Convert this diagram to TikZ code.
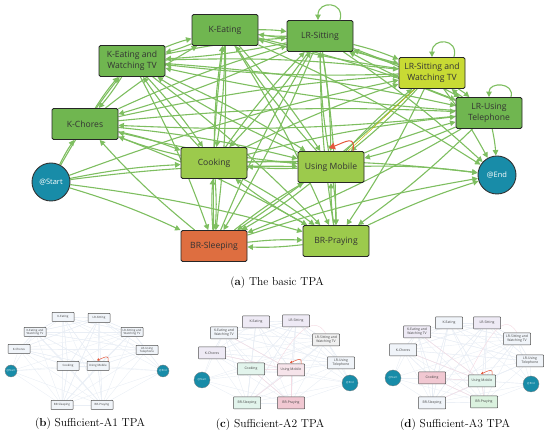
\documentclass[tikz,border=0pt]{standalone}
\usepackage{fontspec}
\newfontfamily\tpafont{Open Sans}
\usetikzlibrary{arrows.meta,backgrounds}

\definecolor{actgreen}{RGB}{112,182,80}
\definecolor{actlime}{RGB}{156,202,76}
\definecolor{actyellow}{RGB}{200,218,52}
\definecolor{actorange}{RGB}{222,110,64}
\definecolor{tpateal}{RGB}{24,140,168}
\definecolor{flowgreen}{RGB}{126,190,96}
\definecolor{loopred}{RGB}{228,88,60}
\definecolor{faintblue}{RGB}{233,238,245}
\definecolor{faintpink}{RGB}{245,220,228}
\definecolor{minibase}{RGB}{240,244,249}
\definecolor{minilav}{RGB}{238,234,245}
\definecolor{minimint}{RGB}{226,244,236}
\definecolor{minipink}{RGB}{246,228,234}
\definecolor{minirose}{RGB}{241,200,210}
\definecolor{minigreen}{RGB}{218,241,222}

% directed transitions between the states
\newcommand{\tpaedges}{ke/ket, ket/ke, ke/ls, ls/ke, ke/ck, ck/ke, ke/um, um/ke,
	ke/bp, ke/lst, lst/ke, ke/lt, kc/ke, ke/bs, bs/ke,
	ket/kc, kc/ket, ket/ck, ck/ket, ket/ls, ls/ket, ket/lst, lst/ket,
	ket/um, um/ket, ket/bs, ket/bp, ket/lt, lt/ket,
	kc/ck, ck/kc, kc/ls, ls/kc, kc/um, um/kc, kc/lst, kc/lt, lt/kc, kc/bp, bs/kc,
	ck/bs, bs/ck, ck/um, um/ck, ck/ls, ls/ck, ck/lst, ck/lt, ck/bp, bp/ck,
	ls/lst, lst/ls, ls/lt, lt/ls, ls/um, um/ls, ls/bp, bp/ls, ls/bs, bs/ls,
	lst/lt, lt/lst, lst/um, um/lst, lst/bp, lst/bs,
	lt/um, um/lt, lt/bp, lt/bs, um/bp, bp/um, um/bs, bs/um, bs/bp, bp/bs,
	st/ket, st/kc, st/ck, st/bs, st/um, st/bp, st/lst,
	ls/en, lst/en, lt/en, um/en, bp/en, ck/en, ke/en, bs/en}

\tikzset{
	act/.style={shape=rectangle,rounded corners=1.5pt,draw=black!85,line width=0.9pt,
		minimum width=66pt,minimum height=31pt,inner sep=1pt,align=center,
		font=\tpafont\fontsize{8.6}{10.5}\selectfont,text=black!80},
	term/.style={shape=circle,draw=black!80,line width=0.9pt,fill=tpateal,
		minimum size=38pt,inner sep=0pt,font=\tpafont\fontsize{7.5}{9}\selectfont,text=white},
	flow/.style={draw=flowgreen,line width=1.1pt,-{Triangle[length=5.5pt,width=5.5pt]},bend left=4},
	selfloop/.style={draw=flowgreen,line width=1.1pt,-{Triangle[length=5.5pt,width=5.5pt]}},
	redloop/.style={draw=loopred,line width=1pt,-{Triangle[length=6pt,width=7pt]}},
	mini/.style={shape=rectangle,rounded corners=0.6pt,draw=black!70,line width=0.5pt,
		minimum width=27pt,minimum height=12pt,inner sep=0.5pt,align=center,
		font=\tpafont\fontsize{3.4}{4}\selectfont,text=black!75},
	miniterm/.style={shape=circle,draw=black!50,line width=0.3pt,fill=tpateal,
		minimum size=16pt,inner sep=0pt,font=\tpafont\fontsize{2.8}{3}\selectfont,text=white!85!tpateal},
	faint/.style={draw=faintblue,line width=0.4pt},
	faintred/.style={draw=faintpink,line width=0.45pt},
	minired/.style={draw=loopred,line width=0.5pt,-{Triangle[length=2.2pt,width=2.6pt]}},
	caption/.style={font=\fontsize{11.5}{13}\selectfont}
}

\begin{document}
\begin{tikzpicture}[x=1pt,y=1pt]
	\useasboundingbox (0,0) rectangle (550,-435);

	% (a) the basic TPA
	\node[act,fill=actgreen] (ke) at (225,-30) {K-Eating};
	\node[act,fill=actgreen] (ket) at (132,-61) {K-Eating and\\Watching TV};
	\node[act,fill=actgreen] (kc) at (85,-124) {K-Chores};
	\node[act,fill=actlime] (ck) at (214,-163) {Cooking};
	\node[act,fill=actorange] (bs) at (214,-246) {BR-Sleeping};
	\node[act,fill=actgreen] (ls) at (320,-36) {LR-Sitting};
	\node[act,fill=actyellow] (lst) at (432,-73) {LR-Sitting and\\Watching TV};
	\node[act,fill=actgreen] (lt) at (489,-113) {LR-Using\\Telephone};
	\node[act,fill=actlime] (um) at (331,-167) {Using Mobile};
	\node[act,fill=actlime] (bp) at (336,-241) {BR-Praying};
	\node[term] (st) at (51,-182) {@Start};
	\node[term] (en) at (497,-175) {@End};

	\begin{pgfonlayer}{background}
		\path
		\foreach \startNode/\endNode in \tpaedges
		{
			(\startNode) edge[flow] (\endNode)
		};
		\draw[draw=olive!55!yellow,line width=0.5pt] (lst) -- (um);
	\end{pgfonlayer}
	\draw[selfloop] ([xshift=20pt]ls.north) to[out=75,in=90,looseness=2.3] ([xshift=-2pt]ls.north);
	\draw[selfloop] ([xshift=22pt]lst.north) to[out=75,in=90,looseness=2.3] (lst.north);
	\draw[selfloop] ([xshift=22pt]lt.north) to[out=75,in=90,looseness=1.8] (lt.north);
	\draw[redloop] ([xshift=22pt]um.north) to[out=80,in=20,looseness=1.8] ([xshift=-2pt,yshift=3pt]um.north);

	\node[caption] (capa) at (277,-283) {(\textbf{a}) The basic TPA};

	% (b) (c) (d) the sufficient TPAs
	\begin{scope}[mini/.append style={minimum width=22pt,minimum height=9pt,
			font=\tpafont\fontsize{2.9}{3.4}\selectfont},
		miniterm/.append style={minimum size=12pt}]
		\foreach \nm/\x/\y/\fc/\txt in {ke/63/317/minibase/K-Eating, ls/99/318/minibase/LR-Sitting,
			ket/35/332/minibase/K-Eating and\\Watching TV, lst/132/332/minibase/LR-Sitting and\\Watching TV,
			kc/19/349/minibase/K-Chores, lt/147/350/minibase/LR-Using\\Telephone,
			ck/68/366/minibase/Cooking, um/98/366/minibase/Using Mobile,
			bs/62/405/minibase/BR-Sleeping, bp/102/405/minibase/BR-Praying}
		\node[mini,fill=\fc] (b-\nm) at (\x,-\y) {\txt};
		\node[miniterm] (b-st) at (11,-371) {@Start};
		\node[miniterm] (b-en) at (163,-371) {@End};
	\end{scope}

	\foreach \nm/\x/\y/\fc/\txt in {ke/256/322/minilav/K-Eating, ls/296/321/minilav/LR-Sitting,
		ket/224/333/minibase/K-Eating and\\Watching TV, lst/326/340/black!6/LR-Sitting and\\Watching TV,
		kc/212/353/minilav/K-Chores, lt/341/363/minibase/LR-Using\\Telephone,
		ck/251/369/minimint/Cooking, um/291/370/minipink/Using Mobile,
		bs/247/403/minimint/BR-Sleeping, bp/291/403/minirose/BR-Praying}
	\node[mini,fill=\fc] (c-\nm) at (\x,-\y) {\txt};
	\node[miniterm] (c-st) at (202,-380) {@Start};
	\node[miniterm] (c-en) at (350,-383) {@End};

	\foreach \nm/\x/\y/\fc/\txt in {ke/449/323/minibase/K-Eating, ls/487/323/minilav/LR-Sitting,
		ket/417/332/minilav/K-Eating and\\Watching TV, lst/517/339/minibase/LR-Sitting and\\Watching TV,
		kc/403/350/minibase/K-Chores, lt/530/361/minibase/LR-Using\\Telephone,
		ck/432/378/minirose/Cooking, um/482/381/minimint/Using Mobile,
		bs/432/403/minibase/BR-Sleeping, bp/484/402/minigreen/BR-Praying}
	\node[mini,fill=\fc] (d-\nm) at (\x,-\y) {\txt};
	\node[miniterm] (d-st) at (393,-378) {@Start};
	\node[miniterm] (d-en) at (531,-384) {@End};

	\begin{pgfonlayer}{background}
		\foreach \p in {b,c,d}
		{
			\path
			\foreach \startNode/\endNode in \tpaedges
			{
				(\p-\startNode) edge[faint] (\p-\endNode)
			};
		}
		\foreach \p in {c,d}
		{
			\path
			\foreach \startNode/\endNode in {ck/um, um/bp, ck/bp, bs/um, ket/um, kc/um}
			{
				(\p-\startNode) edge[faintred] (\p-\endNode)
			};
			\draw[faintred] (\p-lst.north) to[out=120,in=60,looseness=1.2] (\p-um.north west);
		}
	\end{pgfonlayer}
	\foreach \p in {b,c,d}
	{
		\draw[minired] ([xshift=10pt]\p-um.north) to[out=80,in=20,looseness=1.8] ([xshift=-1pt,yshift=1pt]\p-um.north);
	}

	\node[caption] (capb) at (90,-424) {(\textbf{b}) Sufficient-A1 TPA};
	\node[caption] (capc) at (270,-425) {(\textbf{c}) Sufficient-A2 TPA};
	\node[caption] (capd) at (455,-425) {(\textbf{d}) Sufficient-A3 TPA};
\end{tikzpicture}
\end{document}
